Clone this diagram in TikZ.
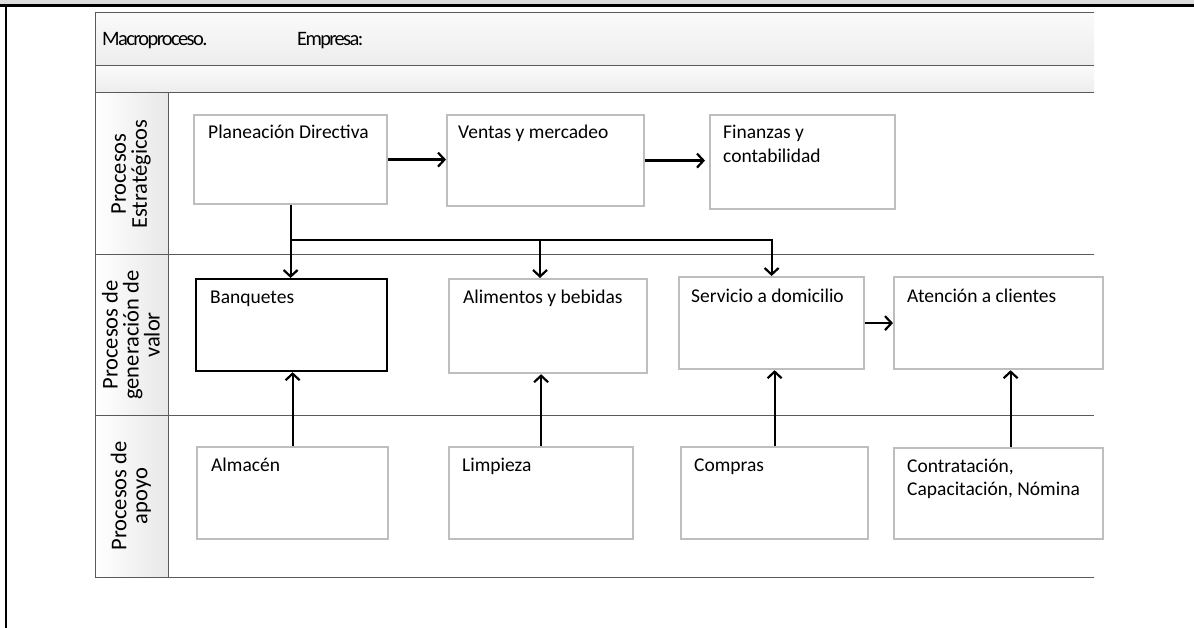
\documentclass[tikz,border=0pt]{standalone}
\usepackage{fontspec}
\setmainfont{Carlito}
\usetikzlibrary{arrows.meta,calc}
\definecolor{bandgray}{HTML}{DCDCDC}
\definecolor{rulegray}{HTML}{5A5A5A}
\definecolor{boxgray}{HTML}{BEBEBE}
\definecolor{hdrtop}{HTML}{FAFAFA}
\definecolor{hdrbot}{HTML}{EDEDED}
\definecolor{colright}{HTML}{E8E8E8}
\begin{document}
\begin{tikzpicture}[x=1pt,y=-1pt,
  lanerule/.style={draw=rulegray,line width=1pt},
  procbox/.style={draw=boxgray,line width=2.2pt,fill=white,anchor=north west,inner sep=0pt},
  keybox/.style={procbox,draw=black},
  boxtext/.style={anchor=base west,font=\fontsize{19.5}{23.5}\selectfont,align=left,inner sep=0pt},
  lanetext/.style={rotate=90,font=\fontsize{22.5}{21}\selectfont,align=center,inner sep=0pt},
  hdrtext/.style={anchor=base west,inner sep=0pt,font=\fontsize{20.5}{24}\selectfont\addfontfeature{LetterSpace=-8}},
  flow/.style={draw=black,line width=2.2pt,-{Straight Barb[length=6.5pt,width=14pt]}},
]
\useasboundingbox (0,0) rectangle (1194,628);

% page frame
\fill[bandgray] (0,0) rectangle (1194,4);
\draw[black,line width=2.6pt] (0,5.3) -- (1194,5.3);
\draw[black,line width=2.6pt] (6,5.3) -- (6,628);

% pool header rows and lane title column
\shade[top color=hdrtop,bottom color=hdrbot] (95,13) rectangle (1094,66);
\shade[top color=hdrtop,bottom color=hdrbot] (95,66) rectangle (1094,93);
\shade[left color=white,right color=colright] (95,93) rectangle (168,577);
\draw[lanerule] (1094,13) -- (95,13) -- (95,577) -- (1094,577);
\draw[lanerule] (95,66) -- (1094,66);
\draw[lanerule] (95,93) -- (1094,93);
\draw[lanerule] (95,255) -- (1094,255);
\draw[lanerule] (95,415) -- (1094,415);
\draw[lanerule] (168,93) -- (168,577);

\node[hdrtext] (macro) at (102,45.7) {Macroproceso.};
\node[hdrtext] (empresa) at (297,45.7) {Empresa:};

% lane titles
\node[lanetext] (lane1) at (131,174) {Procesos\\Estratégicos};
\node[lanetext] (lane2) at (131,335) {Procesos de\\generación de\\valor};
\node[lanetext] (lane3) at (131,496) {Procesos de\\apoyo};

% strategic processes
\node[procbox,minimum width=193pt,minimum height=89pt] (pd) at (193,114) {};
\node[procbox,minimum width=197pt,minimum height=91pt] (vm) at (446,114) {};
\node[procbox,minimum width=185pt,minimum height=94pt] (fc) at (709,114) {};
% value processes
\node[keybox,minimum width=191pt,minimum height=92pt] (bq) at (195,278) {};
\node[procbox,minimum width=198pt,minimum height=94pt] (ab) at (448,278) {};
\node[procbox,minimum width=185pt,minimum height=92pt] (sd) at (678,276) {};
\node[procbox,minimum width=209pt,minimum height=92pt] (ac) at (893,276) {};
% support processes
\node[procbox,minimum width=191pt,minimum height=92pt] (al) at (196,446) {};
\node[procbox,minimum width=184pt,minimum height=92pt] (li) at (448,446) {};
\node[procbox,minimum width=187pt,minimum height=92pt] (co) at (680,446) {};
\node[procbox,minimum width=209pt,minimum height=91pt] (ct) at (893,447) {};

% box captions (a multi-line caption sits on the baseline of its last line)
\node[boxtext] (pdt) at ($(pd.north west)+(15,25)$) {Planeación Directiva};
\node[boxtext] (vmt) at ($(vm.north west)+(12,25)$) {Ventas y mercadeo};
\node[boxtext] (fct) at ($(fc.north west)+(14,48.5)$) {Finanzas y\\contabilidad};
\node[boxtext] (bqt) at ($(bq.north west)+(15,26)$) {Banquetes};
\node[boxtext] (abt) at ($(ab.north west)+(15,26)$) {Alimentos y bebidas};
\node[boxtext] (sdt) at ($(sd.north west)+(13,27)$) {Servicio a domicilio};
\node[boxtext] (act) at ($(ac.north west)+(14,27)$) {Atención a clientes};
\node[boxtext] (alt) at ($(al.north west)+(15,25)$) {Almacén};
\node[boxtext] (lit) at ($(li.north west)+(14,25)$) {Limpieza};
\node[boxtext] (cot) at ($(co.north west)+(14,25)$) {Compras};
\node[boxtext] (ctt) at ($(ct.north west)+(14,48.5)$) {Contratación,\\Capacitación, Nómina};

% strategic flow
\draw[flow] (pd.east) -- (pd.east -| vm.west);
\draw[flow] (vm.east) -- ([xshift=-4pt]vm.east -| fc.west);

% distribution bus from Planeación Directiva
\coordinate (bus) at (289,240);
\coordinate (drop2) at (540,240);
\draw[flow] (pd.south) |- (sd.north |- bus) -- (sd.north);
\draw[flow] (pd.south |- bus) -- (pd.south |- bq.north);
\draw[flow] (drop2) -- (drop2 |- ab.north);

% value flow
\draw[flow] (sd.east) -- (sd.east -| ac.west);

% support feeds
\draw[flow] (al.north) -- (al.north |- bq.south);
\draw[flow] (li.north) -- (li.north |- ab.south);
\draw[flow] (co.north) -- (co.north |- sd.south);
\draw[flow] ([xshift=12pt]ct.north) -- ([xshift=12pt]ct.north |- ac.south);
\end{tikzpicture}
\end{document}
